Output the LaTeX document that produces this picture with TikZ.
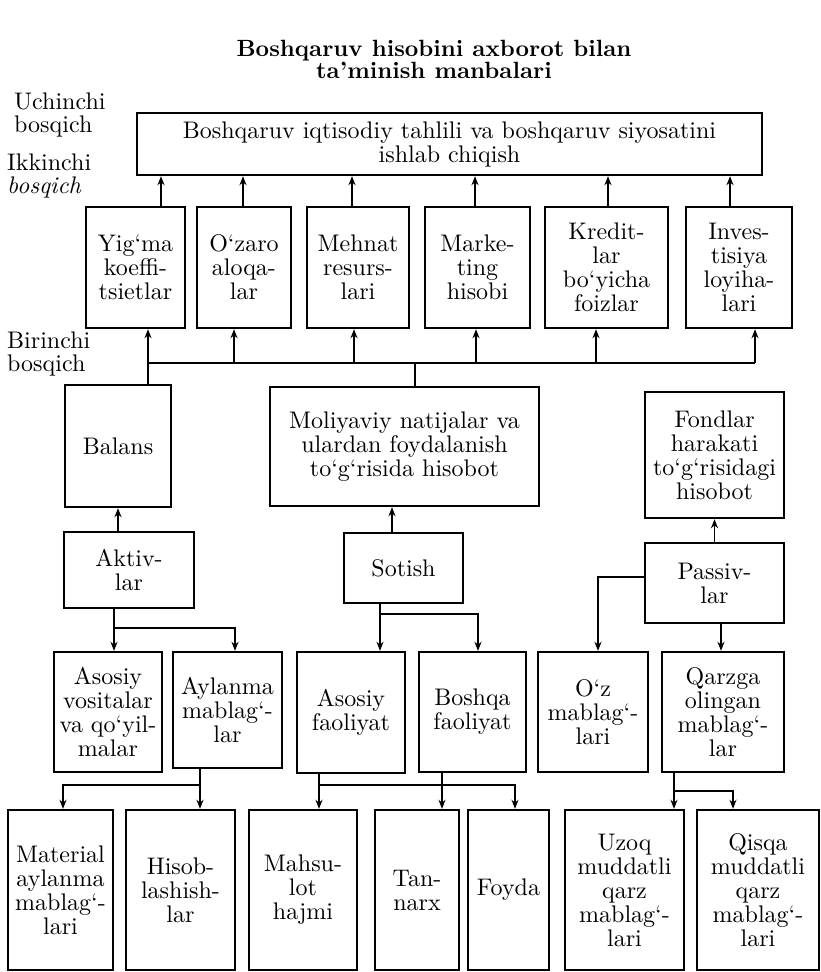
\documentclass[tikz,border=0pt]{standalone}
\usepackage{fontspec}
\setmainfont{lmroman10-regular.otf}[BoldFont=lmroman10-bold.otf, ItalicFont=lmroman10-italic.otf]
\usetikzlibrary{arrows.meta}

\begin{document}
\begin{tikzpicture}[x=1pt, y=-1pt,
		blok/.style={draw, line width=2.4pt, align=center, inner sep=2pt,
			font=\fontsize{24}{24}\selectfont},
		yozuv/.style={align=left, anchor=west, inner sep=0pt,
			font=\fontsize{24}{23}\selectfont},
		chiziq/.style={line width=1.8pt},
		strel/.style={line width=1.8pt, -{Stealth[length=9pt,width=7pt]}}]
		\useasboundingbox (0,0) rectangle (821,972);

		\node[align=center, font=\fontsize{23.5}{22}\selectfont\bfseries] (sarlavha) at (434,59)
			{Boshqaruv hisobini axborot bilan\\ta’minish manbalari};

		\node[yozuv] (uch) at (14,115) {Uchinchi\\bosqich};
		\node[yozuv] (ikki) at (7,176) {Ikkinchi\\\textit{bosqich}};
		\node[yozuv] (bir) at (7,354) {Birinchi\\bosqich};

		% uchinchi bosqich
		\node[blok, minimum width=625, minimum height=62] (top) at (449.5,144)
			{Boshqaruv iqtisodiy tahlili va boshqaruv siyosatini\\ishlab chiqish};

		% ikkinchi bosqich
		\node[blok, minimum width=99, minimum height=121] (yigma) at (135.5,267.5) {Yig‘ma\\koeffi-\\tsietlar};
		\node[blok, minimum width=94, minimum height=121] (ozaro) at (244,267.5) {O‘zaro\\aloqa-\\lar};
		\node[blok, minimum width=102, minimum height=121] (mehnat) at (358,267.5) {Mehnat\\resurs-\\lari};
		\node[blok, minimum width=105, minimum height=121] (marketing) at (477.5,267.5) {Marke-\\ting\\hisobi};
		\node[blok, minimum width=123, minimum height=121] (kredit) at (606.5,267.5) {Kredit-\\lar\\bo‘yicha\\foizlar};
		\node[blok, minimum width=106, minimum height=121] (invest) at (739,267.5) {Inves-\\tisiya\\loyiha-\\lari};

		% birinchi bosqich
		\node[blok, minimum width=106, minimum height=122] (balans) at (118,446) {Balans};
		\node[blok, minimum width=269, minimum height=119] (moliya) at (404.5,446.5)
			{Moliyaviy natijalar va\\ulardan foydalanish\\to‘g‘risida hisobot};
		\node[blok, minimum width=139, minimum height=126] (fond) at (714.5,455)
			{Fondlar\\harakati\\to‘g‘risidagi\\hisobot};

		\node[blok, minimum width=130, minimum height=76] (aktiv) at (129,570) {Aktiv-\\lar};
		\node[blok, minimum width=119, minimum height=70] (sotish) at (403.5,568) {Sotish};
		\node[blok, minimum width=139, minimum height=80] (passiv) at (714.5,583) {Passiv-\\lar};

		\node[blok, minimum width=108, minimum height=120] (asvos) at (108,712) {Asosiy\\vositalar\\va qo‘yil-\\malar};
		\node[blok, minimum width=109, minimum height=116] (aylanma) at (227.5,710) {Aylanma\\mablag‘-\\lar};
		\node[blok, minimum width=108, minimum height=121] (asfaol) at (351,712.5) {Asosiy\\faoliyat};
		\node[blok, minimum width=107, minimum height=120] (boshfaol) at (472.5,712) {Boshqa\\faoliyat};
		\node[blok, minimum width=110, minimum height=120] (ozmab) at (593,712) {O‘z\\mablag‘-\\lari};
		\node[blok, minimum width=122, minimum height=120] (qarz) at (723,712) {Qarzga\\olingan\\mablag‘-\\lar};

		\node[blok, minimum width=105, minimum height=160] (material) at (60.5,890) {Material\\aylanma\\mablag‘-\\lari};
		\node[blok, minimum width=109, minimum height=160] (hisob) at (180.5,890) {Hisob-\\lashish-\\lar};
		\node[blok, minimum width=108, minimum height=160] (mahsulot) at (303,890) {Mahsu-\\lot\\hajmi};
		\node[blok, minimum width=84, minimum height=160] (tannarx) at (417,890) {Tan-\\narx};
		\node[blok, minimum width=81, minimum height=160] (foyda) at (508.5,890) {Foyda};
		\node[blok, minimum width=119, minimum height=160] (uzoq) at (624.5,890) {Uzoq\\muddatli\\qarz\\mablag‘-\\lari};
		\node[blok, minimum width=122, minimum height=160] (qisqa) at (758,890) {Qisqa\\muddatli\\qarz\\mablag‘-\\lari};

		% ikkinchi -> uchinchi
		\foreach \n/\x in {yigma/161, ozaro/243, mehnat/352, marketing/475, kredit/608, invest/730}
			\draw[strel] (\n.north -| \x,0) -- (top.south -| \x,0);

		% birinchi -> ikkinchi
		\coordinate (busL) at (148,363);
		\coordinate (busM) at (415,363);
		\coordinate (busR) at (755,363);
		\draw[chiziq] (busL) -- (busR);
		\draw[strel] (busL |- balans.north) -- (busL |- yigma.south);
		\foreach \n/\x in {ozaro/234, mehnat/354, marketing/476, kredit/596}
			\draw[strel] (busL -| \x,0) -- (\n.south -| \x,0);
		\draw[strel] (busR) -- (busR |- invest.south);
		\draw[chiziq] (busM |- moliya.north) -- (busM);

		\draw[strel] (aktiv.north -| balans.south) -- (balans.south);
		\draw[strel] (sotish.north -| 392,0) -- (moliya.south -| 392,0);
		\draw[strel] (passiv.north) -- (fond.south);

		\coordinate (aj) at (114,628);
		\draw[chiziq] (aktiv.south -| aj) -- (aj);
		\draw[strel] (aj) -- (aj |- asvos.north);
		\draw[strel] (aj) -| (aylanma.north -| 235,0);

		\coordinate (sj) at (380,614);
		\draw[chiziq] (sotish.south -| sj) -- (sj);
		\draw[strel] (sj) -- (sj |- asfaol.north);
		\draw[strel] (sj) -| (boshfaol.north -| 478,0);

		\coordinate (pj) at (598,577);
		\draw[strel] (passiv.west |- pj) -- (pj) -- (pj |- ozmab.north);
		\draw[strel] (passiv.south -| 721,0) -- (qarz.north -| 721,0);

		% pastki qator
		\coordinate (yj) at (200,785);
		\draw[strel] (aylanma.south -| yj) -- (yj |- hisob.north);
		\draw[strel] (yj) -| (material.north -| 63,0);
		\coordinate (fj) at (319,785);
		\draw[strel] (asfaol.south -| fj) -- (fj |- mahsulot.north);
		\draw[strel] (fj) -| (foyda.north -| 515,0);
		\draw[strel] (boshfaol.south -| 442,0) -- (tannarx.north -| 442,0);
		\coordinate (qj) at (674,791);
		\draw[strel] (qarz.south -| qj) -- (qj |- uzoq.north);
		\draw[strel] (qj) -| (qisqa.north -| 733,0);
\end{tikzpicture}
\end{document}
